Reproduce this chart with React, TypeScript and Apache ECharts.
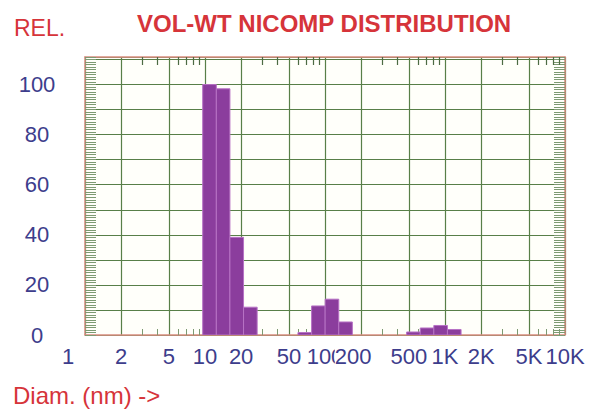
import React, { useEffect, useRef } from "react";
import * as echarts from "echarts";

// Histogram bins (diameter in nm, lower / upper edge) and relative volume-weighted values
const binLow = [9.57, 12.43, 16.13, 20.95, 59.5, 77.3, 100.3, 130.2, 479, 622, 807, 1048];
const binHigh = [12.43, 16.13, 20.95, 27.2, 77.3, 100.3, 130.2, 169, 622, 807, 1048, 1361];
const volWeight = [100, 98.3, 39, 11.1, 1.0, 11.6, 14.3, 5.2, 1.2, 2.8, 3.8, 2.2];

// Axis ticks
const gridDiameters = [1, 2, 5, 10, 20, 50, 100, 200, 500, 1000, 2000, 5000, 10000];
const diameterLabels = ["1", "2", "5", "10", "20", "50", "100", "200", "500", "1K", "2K", "5K", "10K"];
const minorDiameters = [
  3, 4, 6, 7, 8, 9, 30, 40, 60, 70, 80, 90, 300, 400, 600, 700, 800, 900, 3000, 4000, 6000, 7000, 8000, 9000,
];
const relLabels = [0, 20, 40, 60, 80, 100];

const FONT = "'Liberation Sans', Arial, sans-serif";
const RED = "#d6343a";
const BLUE = "#3d3d8c";
const FRAME = "#d98d80";
const GRID = "#587f48";
const TICK = "#4d6b44";
const MINOR = "#7d9a72";

// label nudges (px) for labels that sit off their gridline in the reference
const labelShift: Record<string, number> = { "1": -17, "200": -8 };

export default function App() {
  const ref = useRef<HTMLDivElement>(null);

  useEffect(() => {
    document.body.style.margin = "0";
    if (!ref.current) return;
    const chart = echarts.init(ref.current, null, { renderer: "svg" });

    const rows = binLow.map((lo, i) => [lo, binHigh[i], volWeight[i]]);

    const rich: Record<string, any> = {};
    diameterLabels.forEach((l, i) => {
      const s = labelShift[l] || 0;
      rich["l" + i] = {
        fontSize: 22,
        color: BLUE,
        fontFamily: FONT,
        backgroundColor: "#ffffff",
        padding: s < 0 ? [0, -2 * s, 0, 0] : [0, 0, 0, 2 * s],
      };
    });

    const logAxisBase = {
      type: "log" as const,
      logBase: 10,
      min: 1,
      max: 10000,
    };

    const option: any = {
      animation: false,
      backgroundColor: "#ffffff",
      title: [
        {
          text: "VOL-WT NICOMP DISTRIBUTION",
          left: 132,
          top: 6,
          textStyle: { color: RED, fontSize: 24, fontWeight: "bold", fontFamily: FONT },
        },
        {
          text: "REL.",
          left: 9,
          top: 11,
          textStyle: { color: RED, fontSize: 23, fontWeight: "normal", fontFamily: FONT },
        },
        {
          text: "Diam. (nm) ->",
          left: 8,
          top: 378,
          textStyle: { color: RED, fontSize: 24, fontWeight: "normal", fontFamily: FONT },
        },
      ],
      grid: {
        left: 85,
        right: 33,
        top: 57,
        bottom: 79,
        show: true,
        backgroundColor: "#fffffa",
        borderWidth: 0,
      },
      xAxis: [
        {
          ...logAxisBase,
          position: "bottom",
          axisLine: { show: true, onZero: false, lineStyle: { color: FRAME, width: 1.5 } },
          axisTick: { show: false, customValues: gridDiameters },
          axisLabel: {
            customValues: gridDiameters,
            margin: 10,
            showMinLabel: true,
            showMaxLabel: true,
            formatter: (v: number) => {
              const i = gridDiameters.findIndex((g) => Math.abs(g - v) / g < 1e-6);
              return i >= 0 ? `{l${i}|${diameterLabels[i]}}` : "";
            },
            rich,
          },
          splitLine: { show: true, lineStyle: { color: GRID, width: 1.2 } },
        },
        {
          ...logAxisBase,
          position: "top",
          axisLine: { show: true, onZero: false, lineStyle: { color: FRAME, width: 1.5 } },
          axisTick: {
            show: true,
            inside: true,
            length: 8,
            customValues: minorDiameters,
            lineStyle: { color: TICK, width: 1.2 },
          },
          axisLabel: { show: false },
          splitLine: { show: false },
        },
        {
          ...logAxisBase,
          position: "bottom",
          axisLine: { show: false, onZero: false },
          axisTick: {
            show: true,
            inside: true,
            length: 6,
            customValues: minorDiameters,
            lineStyle: { color: MINOR, width: 1 },
          },
          axisLabel: { show: false },
          splitLine: { show: false },
        },
      ],
      yAxis: [
        {
          type: "value",
          position: "left",
          min: 0,
          max: 111,
          interval: 10,
          axisLine: { show: true, onZero: false, lineStyle: { color: FRAME, width: 1.5 } },
          axisTick: { show: true, inside: true, length: 11, lineStyle: { color: MINOR } },
          minorTick: { show: true, splitNumber: 10, length: 11, lineStyle: { color: MINOR } },
          axisLabel: {
            align: "center",
            margin: 48,
            fontSize: 22,
            color: BLUE,
            fontFamily: FONT,
            formatter: (v: number) => (relLabels.includes(v) ? String(v) : ""),
          },
          splitLine: { show: true, lineStyle: { color: GRID, width: 1.2 } },
        },
        {
          type: "value",
          position: "right",
          min: 0,
          max: 111,
          interval: 10,
          axisLine: { show: true, onZero: false, lineStyle: { color: FRAME, width: 1.5 } },
          axisTick: { show: true, inside: true, length: 11, lineStyle: { color: MINOR } },
          minorTick: { show: true, splitNumber: 10, length: 11, lineStyle: { color: MINOR } },
          axisLabel: { show: false },
          splitLine: { show: false },
        },
      ],
      series: [
        {
          type: "custom",
          xAxisIndex: 0,
          yAxisIndex: 0,
          encode: { x: [0, 1], y: 2 },
          data: rows,
          clip: true,
          renderItem: (params: any, api: any) => {
            const lo = api.value(0);
            const hi = api.value(1);
            const v = api.value(2);
            const p0 = api.coord([lo, v]);
            const p1 = api.coord([hi, 0]);
            return {
              type: "rect",
              shape: { x: p0[0], y: p0[1], width: p1[0] - p0[0], height: p1[1] - p0[1] },
              style: { fill: "#8b3d9d", stroke: "#b772c5", lineWidth: 1 },
            };
          },
        },
      ],
    };

    chart.setOption(option);
    return () => chart.dispose();
  }, []);

  return <div ref={ref} style={{ width: 598, height: 414 }} />;
}
